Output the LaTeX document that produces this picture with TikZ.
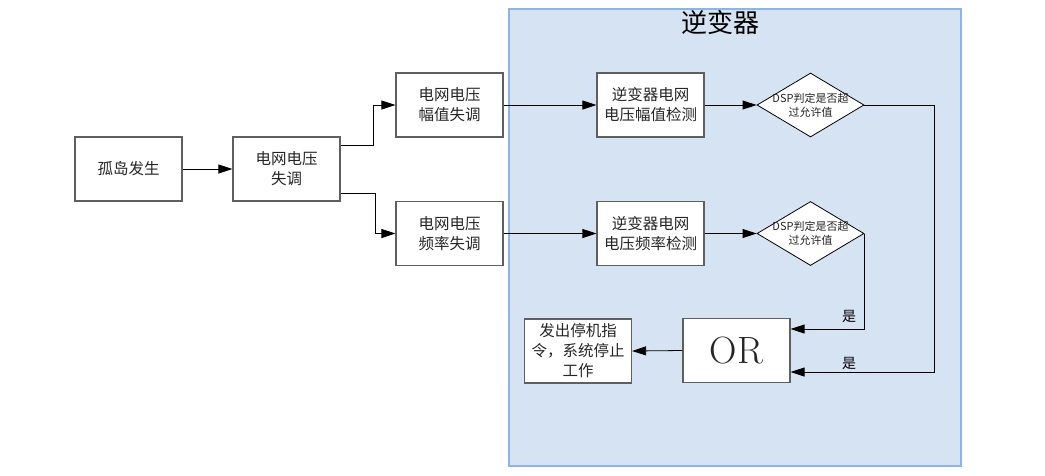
\documentclass[tikz,border=0pt]{standalone}
\usepackage{fontspec}
\newfontfamily\cjk{Noto Sans CJK SC}
\usetikzlibrary{arrows.meta,shapes.geometric}
\definecolor{panelfill}{RGB}{214,227,243}
\definecolor{paneledge}{RGB}{141,180,227}
\definecolor{boxedge}{RGB}{95,95,95}
\begin{document}
\begin{tikzpicture}[x=1pt,y=-1pt,
  box/.style={draw=boxedge,line width=1.2pt,fill=white,minimum width=107pt,minimum height=64pt,inner sep=0pt,align=center,font=\cjk\fontsize{15.5}{20}\selectfont,text=black!85},
  dia/.style={draw=black,line width=0.8pt,fill=white,shape=diamond,minimum width=107pt,minimum height=64pt,inner sep=0pt},
  diatext/.style={align=center,font=\cjk\fontsize{11}{14}\selectfont,text=black!85,inner sep=0pt},
  arr/.style={draw=black,line width=0.8pt,-{Triangle[length=14pt,width=9pt]}},
  lbl/.style={font=\cjk\fontsize{14}{16}\selectfont,inner sep=0pt}]
\useasboundingbox (0,0) rectangle (1045,475);
\fill[white] (0,0) rectangle (1045,475);
\draw[fill=panelfill,draw=paneledge,line width=1.2pt] (509,9) rectangle (961,466);
\node[font=\cjk\fontsize{26}{30}\selectfont,inner sep=0pt] (title) at (720,23) {逆变器};
\node[box] (island) at (128.5,169) {孤岛发生};
\node[box] (imbal) at (286.5,169) {电网电压\\失调};
\node[box] (amp) at (449.5,105) {电网电压\\幅值失调};
\node[box] (freq) at (449.5,233.5) {电网电压\\频率失调};
\node[box] (det1) at (650.5,105) {逆变器电网\\电压幅值检测};
\node[box] (det2) at (650.5,233.5) {逆变器电网\\电压频率检测};
\node[dia] (dia1) at (810.5,105) {};
\node[diatext] (dia1t) at (810.5,105) {DSP判定是否超\\过允许值};
\node[dia] (dia2) at (810.5,233.5) {};
\node[diatext] (dia2t) at (810.5,233.5) {DSP判定是否超\\过允许值};
\node[box,font=\fontsize{38}{40}\selectfont] (or) at (736.5,350.5) {OR};
\node[box] (out) at (578,351) {发出停机指\\令，系统停止\\工作};
\draw[arr] (island.east) -- (imbal.west);
\draw[arr] ([yshift=24pt]imbal.east) -- ++(33,0) |- (amp.west);
\draw[arr] ([yshift=-24pt]imbal.east) -- ++(35,0) |- (freq.west);
\draw[arr] (amp.east) -- (det1.west);
\draw[arr] (freq.east) -- (det2.west);
\draw[arr] (det1.east) -- (dia1.west);
\draw[arr] (det2.east) -- (dia2.west);
\draw[arr] (dia1.east) -- ++(70,0) |- ([yshift=-21.5pt]or.east);
\draw[arr] (dia2.east) |- ([yshift=21.5pt]or.east);
\draw[arr] (or.west) -- (out.east);
\node[lbl] (yes1) at (849,316) {是};
\node[lbl] (yes2) at (849,363) {是};
\end{tikzpicture}
\end{document}
